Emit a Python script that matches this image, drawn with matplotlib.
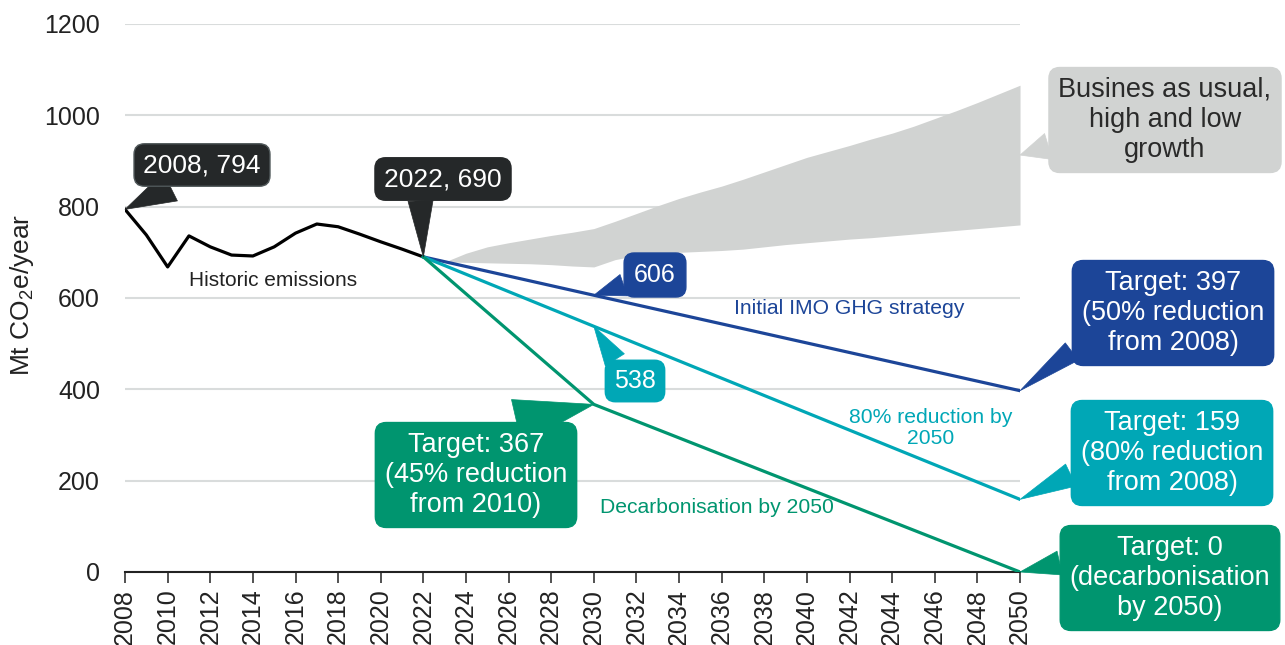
import numpy as np
import matplotlib
matplotlib.use('Agg')
import matplotlib.pyplot as plt

plt.rcParams['font.family'] = ['Liberation Sans', 'DejaVu Sans']

# historic emissions, Mt CO2e/year
hist_years = np.arange(2008, 2023)
hist_values = [794, 738, 668, 736, 712, 694, 692, 712, 742, 762, 756, 740, 723, 707, 690]

# business as usual band (low / high growth)
bau_years = np.arange(2023, 2051)
bau_low = [679, 678, 677, 676, 675, 673, 670, 668, 684, 693, 698, 700, 702, 704,
           707, 712, 717, 721, 725, 729, 732, 736, 740, 744, 748, 752, 756, 760]
bau_high = [679, 698, 712, 721, 729, 737, 744, 752, 768, 785, 802, 818, 832, 845,
            860, 876, 892, 908, 921, 934, 948, 961, 976, 993, 1010, 1028, 1047, 1066]

# pathways
imo_years = [2022, 2030, 2050]
imo_values = [690, 606, 397]
red80_years = [2022, 2030, 2050]
red80_values = [690, 538, 159]
decarb_years = [2022, 2030, 2050]
decarb_values = [690, 367, 0]

c_dark = '#252829'
c_blue = '#1C4598'
c_teal = '#00A7B6'
c_green = '#00956F'
c_grey = '#D1D3D2'

fig = plt.figure(figsize=(12.85, 6.45), dpi=100)
ax = fig.add_axes([0.0973, 0.1132, 0.6965, 0.8496])

ax.fill_between(bau_years, bau_low, bau_high, color=c_grey, lw=0, zorder=2)
ax.plot(hist_years, hist_values, color='black', lw=2.3, zorder=4, solid_joinstyle='round')
ax.plot(imo_years, imo_values, color=c_blue, lw=2.3, zorder=4)
ax.plot(red80_years, red80_values, color=c_teal, lw=2.3, zorder=4)
ax.plot(decarb_years, decarb_values, color=c_green, lw=2.3, zorder=5)

ax.set_xlim(2008, 2050)
ax.set_ylim(0, 1200)
ax.set_xticks(np.arange(2008, 2051, 2))
ax.set_yticks(np.arange(0, 1201, 200))
ax.tick_params(axis='x', labelrotation=90, labelsize=18, length=8, width=1.2,
               color='#333333', labelcolor='#222222', pad=4)
ax.tick_params(axis='y', length=0, labelsize=18, labelcolor='#222222', pad=18)
for s in ['left', 'right', 'top']:
    ax.spines[s].set_visible(False)
ax.spines['bottom'].set_color('#222222')
ax.spines['bottom'].set_linewidth(1.5)
ax.spines['bottom'].set_zorder(3)
ax.grid(axis='y', color='#D9DCDC', lw=1.5, zorder=0)
ax.set_axisbelow(True)

ax.set_ylabel('Mt CO$_{\\mathregular{2}}$e/year', fontsize=19, color='#222222')
ax.yaxis.set_label_coords(-0.1, 0.505)

# line labels
ax.text(2014.95, 639, 'Historic emissions', fontsize=15, color='#222222',
        ha='center', va='center', zorder=6)
ax.text(2042.0, 576, 'Initial IMO GHG strategy', fontsize=15.2, color=c_blue,
        ha='center', va='center', zorder=6)
ax.text(2045.8, 315, '80% reduction by\n2050', fontsize=15.2, color=c_teal,
        ha='center', va='center', zorder=6, linespacing=1.15)
ax.text(2035.8, 142, 'Decarbonisation by 2050', fontsize=15.2, color=c_green,
        ha='center', va='center', zorder=6)


def callout(text, xy, xytext, fc, tc='white', size=19.5, tail=1.0, relpos=(0.5, 0.5),
            ec=None, pad=0.35):
    ax.annotate(text, xy=xy, xytext=xytext, textcoords='figure pixels',
                fontsize=size, color=tc, ha='center', va='center',
                linespacing=1.2, annotation_clip=False, zorder=8,
                bbox=dict(boxstyle=f'round,pad={pad},rounding_size=0.4', fc=fc,
                          ec=ec if ec else fc, lw=1),
                arrowprops=dict(arrowstyle=f'wedge,tail_width={tail}', fc=fc, ec=fc,
                                lw=0.5, shrinkA=0, shrinkB=0, relpos=relpos))


callout('2008, 794', (hist_years[0], hist_values[0]), (202, 480), c_dark, size=19,
        tail=1.2, ec='#50585a', relpos=(0.6, 0.5))
callout('2022, 690', (hist_years[-1], hist_values[-1]), (443, 466), c_dark, size=19,
        tail=0.95, relpos=(0.3, 0.5))
callout(str(imo_values[1]), (imo_years[1], imo_values[1]), (655, 370), c_blue, size=18,
        tail=0.9, relpos=(0.3, 0.4), pad=0.4)
callout(str(red80_values[1]), (red80_years[1], red80_values[1]), (635, 264), c_teal,
        size=18, tail=0.9, relpos=(0.3, 0.6), pad=0.35)
callout(f'Target: {decarb_values[1]}\n(45% reduction\nfrom 2010)',
        (decarb_years[1], decarb_values[1]), (476, 170), c_green, tail=1.7,
        relpos=(0.38, 0.95))
callout('Busines as usual,\nhigh and low\ngrowth',
        (bau_years[-1], (bau_low[-1] + bau_high[-1]) / 2), (1165, 525), c_grey,
        tc='#2a2a2a', tail=1.0, relpos=(0.3, 0.45))
callout(f'Target: {imo_values[-1]}\n(50% reduction\nfrom 2008)',
        (imo_years[-1], imo_values[-1]), (1173, 332), c_blue, tail=0.8,
        relpos=(0.1, 0.3))
callout(f'Target: {red80_values[-1]}\n(80% reduction\nfrom 2008)',
        (red80_years[-1], red80_values[-1]), (1172, 192), c_teal, tail=0.9,
        relpos=(0.1, 0.4))
callout(f'Target: {decarb_values[-1]}\n(decarbonisation\nby 2050)',
        (decarb_years[-1], decarb_values[-1]), (1170, 67), c_green, tail=0.9,
        relpos=(0.0, 0.7))

fig.savefig('out.png', dpi=100)
